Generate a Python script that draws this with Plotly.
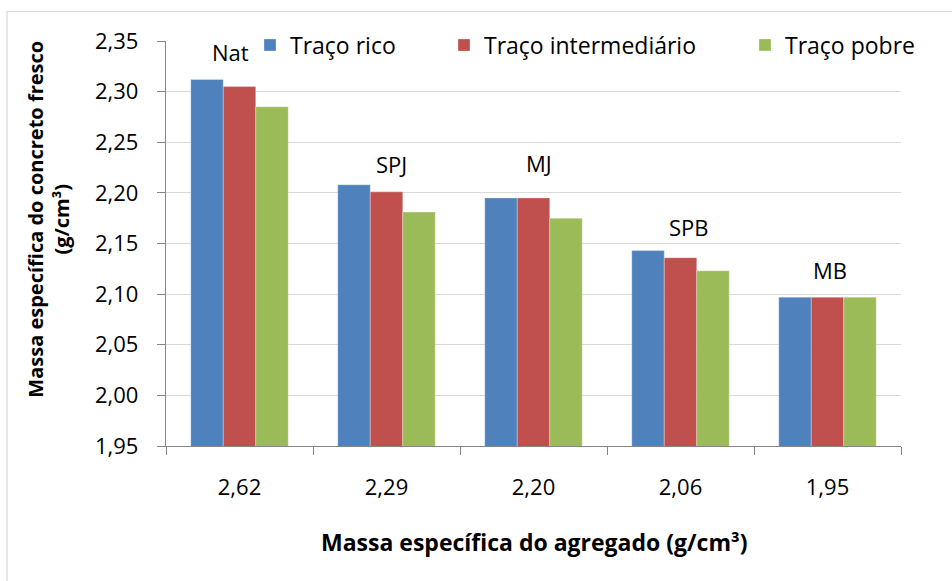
import plotly.graph_objects as go

# Aggregate specific mass (category axis) and fresh-concrete specific mass per mix
categorias = ["2,62", "2,29", "2,20", "2,06", "1,95"]
agregados = ["Nat", "SPJ", "MJ", "SPB", "MB"]
traco_rico = [2.312, 2.208, 2.195, 2.143, 2.097]
traco_intermediario = [2.305, 2.201, 2.195, 2.136, 2.097]
traco_pobre = [2.285, 2.181, 2.175, 2.123, 2.097]

series = [
    ("Traço rico", traco_rico, "#4f81bd", "legend"),
    ("Traço intermediário", traco_intermediario, "#c0504d", "legend2"),
    ("Traço pobre", traco_pobre, "#9bbb59", "legend3"),
]

FONT = "'Open Sans', Lato, sans-serif"
TXT = "#000000"
AXIS = "#868686"
GRID = "#d9d9d9"

fig = go.Figure()
for nome, valores, cor, leg in series:
    fig.add_trace(go.Bar(
        x=categorias, y=valores, name=nome, legend=leg, showlegend=True,
        marker=dict(color=cor, line=dict(color="rgba(255,255,255,0.5)", width=0.6)),
    ))

# Aggregate labels above each group (label height and horizontal nudge)
label_pos = [(0.027, -9), (0.021, 5), (0.035, 5), (0.023, 8), (0.027, 2)]
for cat, ag, a, b, c, (dy, dx) in zip(categorias, agregados, traco_rico,
                                       traco_intermediario, traco_pobre, label_pos):
    fig.add_annotation(
        x=cat, y=max(a, b, c) + dy, xref="x", yref="y", text=ag,
        showarrow=False, xshift=dx, yanchor="middle",
        font=dict(family=FONT, size=22, color=TXT),
    )

# Axis titles
fig.add_annotation(
    x=-0.161, y=(446 - 219) / 405, xref="paper", yref="paper",
    text="<b>Massa específica do concreto fresco<br>(g/cm³)</b>",
    textangle=-90, showarrow=False, xanchor="center", yanchor="middle",
    font=dict(family=FONT, size=20, color=TXT),
)
fig.add_annotation(
    x=0.5, y=(446 - 542) / 405, xref="paper", yref="paper",
    text="<b>Massa específica do agregado (g/cm³)</b>",
    showarrow=False, xanchor="center", yanchor="middle",
    font=dict(family=FONT, size=23, color=TXT),
)

# Chart-area border
fig.add_shape(
    type="rect", xref="paper", yref="paper",
    x0=(7 - 166) / 735, x1=(960 - 166) / 735,
    y0=(446 - 600) / 405, y1=(446 - 11.5) / 405,
    line=dict(color=GRID, width=1.2), fillcolor="rgba(0,0,0,0)", layer="below",
)

leg_common = dict(orientation="h", yanchor="middle", y=(446 - 45) / 405,
                  xanchor="left", bgcolor="rgba(0,0,0,0)",
                  font=dict(family=FONT, size=23, color=TXT))

fig.update_layout(
    width=952, height=581,
    margin=dict(l=166, r=51, t=41, b=135),
    paper_bgcolor="white", plot_bgcolor="white",
    separators=",.",
    showlegend=True,
    barmode="group", bargap=0.337, bargroupgap=0,
    font=dict(family=FONT, size=21, color=TXT),
    legend=dict(x=(250 - 166) / 735, **leg_common),
    legend2=dict(x=(444 - 166) / 735, **leg_common),
    legend3=dict(x=(745 - 166) / 735, **leg_common),
    xaxis=dict(
        type="category", showline=True, linecolor=AXIS, linewidth=1.3,
        ticks="outside", tickson="boundaries", ticklen=8, tickcolor=AXIS,
        tickwidth=1.3, showgrid=False, ticklabelstandoff=21,
        tickfont=dict(family=FONT, size=22, color=TXT),
    ),
    yaxis=dict(
        range=[1.95, 2.35], dtick=0.05, tick0=1.95, tickformat=".2f",
        showline=True, linecolor=AXIS, linewidth=1.3,
        ticks="outside", ticklen=8, tickcolor=AXIS, tickwidth=1.3,
        showgrid=True, gridcolor=GRID, gridwidth=1.3, zeroline=False,
        ticklabelstandoff=14,
        tickfont=dict(family=FONT, size=22, color=TXT),
    ),
)

fig.write_html("out.html")
